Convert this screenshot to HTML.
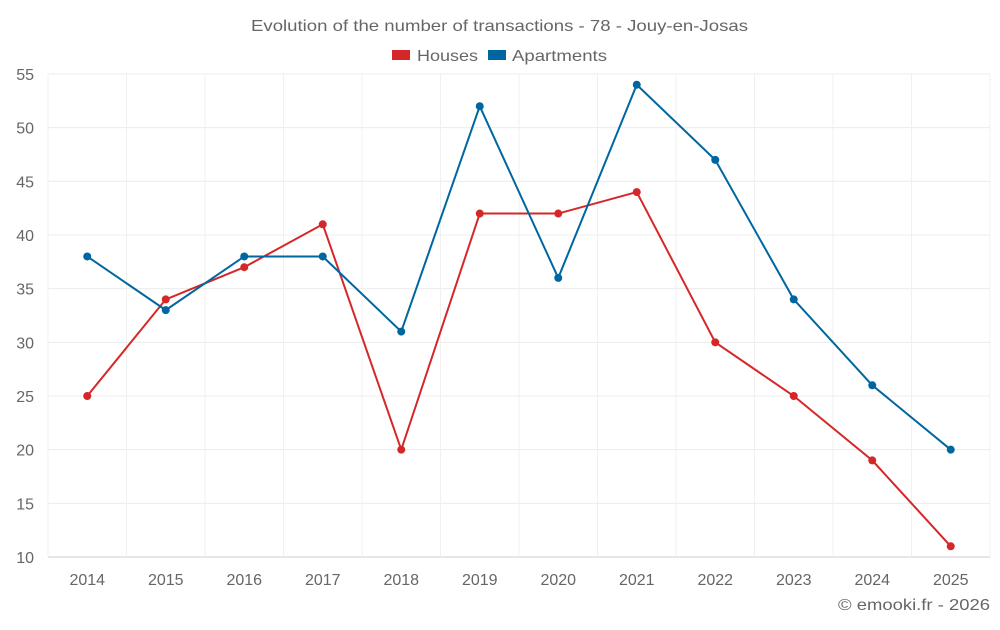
<!DOCTYPE html>
<html><head><meta charset="utf-8"><style>
body{margin:0;background:#fff;font-family:"Liberation Sans",sans-serif;}
svg text{font-family:"Liberation Sans",sans-serif;fill:#666;}
</style></head><body>
<svg id="chart" width="1000" height="625">
<text x="251" y="31" font-size="16" textLength="497" lengthAdjust="spacingAndGlyphs">Evolution of the number of transactions - 78 - Jouy-en-Josas</text>
<g>
<g><rect x="392" y="50" width="18" height="10" fill="#d62728"/><text x="417" y="61" font-size="16" textLength="61" lengthAdjust="spacingAndGlyphs">Houses</text></g>
<g><rect x="488" y="50" width="18" height="10" fill="#0066a0"/><text x="512" y="61" font-size="16" textLength="95" lengthAdjust="spacingAndGlyphs">Apartments</text></g>
</g>
<g id="grid"></g><g id="axes"></g><g id="series"></g>
<text x="838" y="610" font-size="16" textLength="152" lengthAdjust="spacingAndGlyphs">© emooki.fr - 2026</text>
</svg>
<script>
const years=['2014','2015','2016','2017','2018','2019','2020','2021','2022','2023','2024','2025'];
const houses=[25,34,37,41,20,42,42,44,30,25,19,11];
const apartments=[38,33,38,38,31,52,36,54,47,34,26,20];
const yTicks=[10,15,20,25,30,35,40,45,50,55];
const L=48,R=990,T=74,B=557,yMin=10,yMax=55;
const bw=(R-L)/years.length;
const x=i=>L+bw*(i+0.5);
const y=v=>B-(v-yMin)/(yMax-yMin)*(B-T);
const NS='http://www.w3.org/2000/svg';
function mk(tag,attrs,parent){const e=document.createElementNS(NS,tag);for(const k in attrs)e.setAttribute(k,attrs[k]);document.getElementById(parent).appendChild(e);return e;}
yTicks.forEach(t=>{
 const g=mk('line',{x1:L,x2:R,y1:y(t),y2:y(t),stroke:t===yMin?'#ccc':'#ececec'},'grid');
 
 
 const tx=mk('text',{x:34,y:y(t)+6,'text-anchor':'end','font-size':16},'axes');tx.textContent=t;
 
 
});
for(let i=0;i<=years.length;i++){
 const g=mk('line',{x1:L+bw*i,x2:L+bw*i,y1:T,y2:B,stroke:'#f0f0f0'},'grid');
 
 
}
years.forEach((yr,i)=>{
 const tx=mk('text',{x:x(i),y:585,'text-anchor':'middle','font-size':16},'axes');tx.textContent=yr;
 
 
});
function series(vals,color,name){
 const p=mk('polyline',{points:vals.map((v,i)=>x(i)+','+y(v)).join(' '),fill:'none',stroke:color,'stroke-width':2},'series');
 
 
 vals.forEach((v,i)=>{
  const c=mk('circle',{cx:x(i),cy:y(v),r:4,fill:color},'series');
  
  
 });
}
series(houses,'#d62728','houses');
series(apartments,'#0066a0','apartments');
</script>
</body></html>
